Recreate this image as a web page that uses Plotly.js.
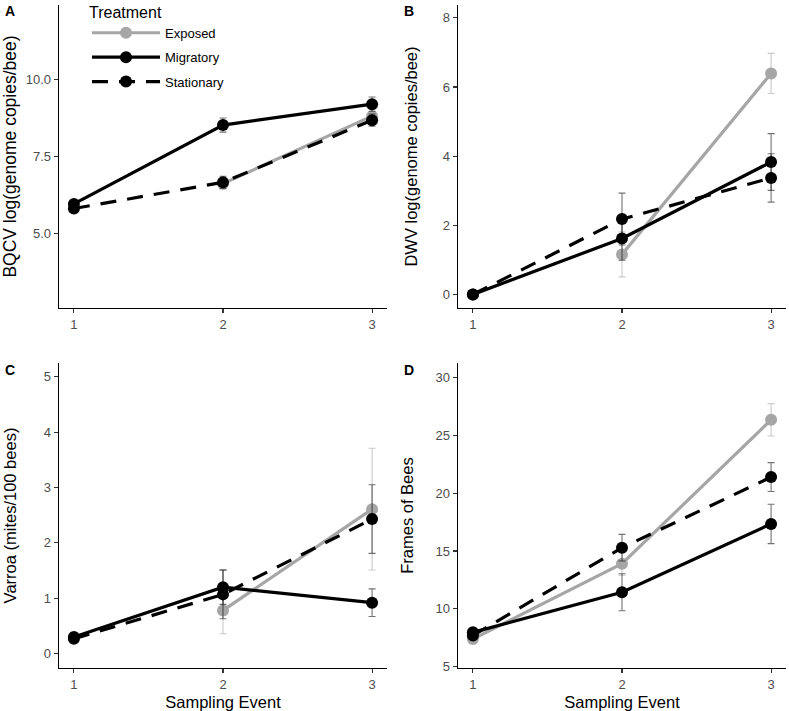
<!DOCTYPE html>
<html>
<head>
<meta charset="utf-8">
<script src="https://cdn.plot.ly/plotly-3.0.1.min.js"></script>
<style>html,body{margin:0;padding:0;background:#fff;}#chart{width:789px;height:711px;}</style>
</head>
<body>
<div id="chart"></div>
<script>
// ---- data ----
const events = [1, 2, 3];
const treatments = ['Exposed', 'Migratory', 'Stationary'];

// Panel A: BQCV
const bqcvExposed = [null, 6.62, 8.81];
const bqcvExposedSE = [0, 0.2, 0.22];
const bqcvMigratory = [5.96, 8.52, 9.2];
const bqcvMigratorySE = [0.06, 0.23, 0.23];
const bqcvStationary = [5.81, 6.66, 8.68];
const bqcvStationarySE = [0.06, 0.2, 0.2];

// Panel B: DWV
const dwvExposed = [null, 1.16, 6.39];
const dwvExposedSE = [0, 0.65, 0.58];
const dwvMigratory = [0, 1.62, 3.83];
const dwvMigratorySE = [0, 0.63, 0.82];
const dwvStationary = [0, 2.18, 3.37];
const dwvStationarySE = [0, 0.75, 0.7];

// Panel C: Varroa
const varroaExposed = [null, 0.78, 2.61];
const varroaExposedSE = [0, 0.42, 1.1];
const varroaMigratory = [0.3, 1.2, 0.92];
const varroaMigratorySE = [0.03, 0.31, 0.25];
const varroaStationary = [0.27, 1.07, 2.43];
const varroaStationarySE = [0.03, 0.44, 0.62];

// Panel D: Frames of bees
const framesExposed = [7.4, 13.9, 26.34];
const framesExposedSE = [0.3, 1.0, 1.4];
const framesMigratory = [7.97, 11.44, 17.34];
const framesMigratorySE = [0.3, 1.6, 1.7];
const framesStationary = [7.7, 15.29, 21.39];
const framesStationarySE = [0.3, 1.15, 1.25];

const xTickLabels = ['1', '2', '3'];
const panelLabels = ['A', 'B', 'C', 'D'];
const yTitles = ['BQCV log(genome copies/bee)', 'DWV log(genome copies/bee)', 'Varroa (mites/100 bees)', 'Frames of Bees'];
const xTitle = 'Sampling Event';

// ---- styles ----
const styles = {
  Exposed:   {color: '#a6a6a6', dash: 'solid', err: 'rgba(150,150,150,0.5)'},
  Migratory: {color: '#000000', dash: 'solid', err: 'rgba(0,0,0,0.55)'},
  Stationary:{color: '#000000', dash: '16px,11px', err: 'rgba(0,0,0,0.55)'}
};

const panels = [
  {series: [bqcvExposed, bqcvMigratory, bqcvStationary], se: [bqcvExposedSE, bqcvMigratorySE, bqcvStationarySE]},
  {series: [dwvExposed, dwvMigratory, dwvStationary], se: [dwvExposedSE, dwvMigratorySE, dwvStationarySE]},
  {series: [varroaExposed, varroaMigratory, varroaStationary], se: [varroaExposedSE, varroaMigratorySE, varroaStationarySE]},
  {series: [framesExposed, framesMigratory, framesStationary], se: [framesExposedSE, framesMigratorySE, framesStationarySE]}
];

const traces = [];
panels.forEach((p, pi) => {
  const ax = pi === 0 ? '' : String(pi + 1);
  treatments.forEach((t, ti) => {
    const s = styles[t];
    traces.push({
      type: 'scatter', mode: 'lines+markers',
      x: events, y: p.series[ti],
      name: t, legendgroup: t, showlegend: pi === 0,
      xaxis: 'x' + ax, yaxis: 'y' + ax,
      line: {color: s.color, width: 3.2, dash: s.dash},
      marker: {color: s.color, size: 12},
      error_y: {type: 'data', array: p.se[ti], visible: true, color: s.err, thickness: 1.1, width: 3.5},
      cliponaxis: false
    });
  });
});

const W = 789, H = 711;
const px = v => v / W;
const py = v => 1 - v / H;
const FONT = 'Liberation Sans, Arial, sans-serif';

function xAxis(domain, showTitle) {
  return {
    domain: domain, range: [0.9, 3.1], tickvals: events, ticktext: xTickLabels,
    showline: true, linecolor: '#000', linewidth: 1.4, ticks: 'outside', ticklen: 4, tickwidth: 1.1, tickcolor: '#333',
    tickfont: {family: FONT, size: 13, color: '#4d4d4d'},
    showgrid: false, zeroline: false, fixedrange: true,
    title: showTitle ? {text: xTitle, font: {family: FONT, size: 16.5, color: '#000'}, standoff: 8} : {text: ''}
  };
}
function yAxis(domain, range, tickvals, ticktext, title, size, anchor, standoff) {
  return {
    domain: domain, range: range, tickvals: tickvals, ticktext: ticktext, anchor: anchor,
    showline: true, linecolor: '#000', linewidth: 1.4, ticks: 'outside', ticklen: 4, tickwidth: 1.1, tickcolor: '#333',
    tickfont: {family: FONT, size: 13, color: '#4d4d4d'},
    showgrid: false, zeroline: false, fixedrange: true,
    title: {text: title, font: {family: FONT, size: size, color: '#000'}, standoff: standoff}
  };
}

const leftX = [px(59), px(387)];
const rightX = [px(458), px(786)];
const topY = [py(308), py(5)];
const botY = [py(668), py(363)];

const layout = {
  width: W, height: H,
  margin: {l: 0, r: 0, t: 0, b: 0, autoexpand: false},
  paper_bgcolor: '#fff', plot_bgcolor: '#fff',
  font: {family: FONT},
  xaxis: Object.assign(xAxis(leftX, false), {anchor: 'y'}),
  yaxis: yAxis(topY, [2.58, 12.42], [5, 7.5, 10], ['5.0', '7.5', '10.0'], yTitles[0], 17.5, 'x', 10),
  xaxis2: Object.assign(xAxis(rightX, false), {anchor: 'y2'}),
  yaxis2: yAxis(topY, [-0.39, 8.37], [0, 2, 4, 6, 8], ['0', '2', '4', '6', '8'], yTitles[1], 16.5, 'x2', 21),
  xaxis3: Object.assign(xAxis(leftX, true), {anchor: 'y3'}),
  yaxis3: yAxis(botY, [-0.26, 5.25], [0, 1, 2, 3, 4, 5], ['0', '1', '2', '3', '4', '5'], yTitles[2], 16.5, 'x3', 23),
  xaxis4: Object.assign(xAxis(rightX, true), {anchor: 'y4'}),
  yaxis4: yAxis(botY, [4.89, 31.25], [5, 10, 15, 20, 25, 30], ['5', '10', '15', '20', '25', '30'], yTitles[3], 16.5, 'x4', 17),
  showlegend: true,
  legend: {
    x: px(87), y: py(-3), xanchor: 'left', yanchor: 'top',
    bgcolor: 'rgba(0,0,0,0)',
    title: {text: 'Treatment', font: {size: 16, color: '#000', family: FONT}},
    font: {size: 13, color: '#000', family: FONT},
    itemwidth: 68,
    traceorder: 'grouped',
    tracegroupgap: 4.5
  },
  annotations: panelLabels.map((lab, i) => ({
    text: '<b>' + lab + '</b>', xref: 'paper', yref: 'paper',
    x: px(i % 2 === 0 ? 3 : 402), y: py(i < 2 ? 1 : 360),
    xanchor: 'left', yanchor: 'top', showarrow: false,
    font: {size: 14, color: '#000', family: FONT}
  }))
};

Plotly.newPlot('chart', traces, layout, {displayModeBar: false, staticPlot: true});
</script>
</body>
</html>
